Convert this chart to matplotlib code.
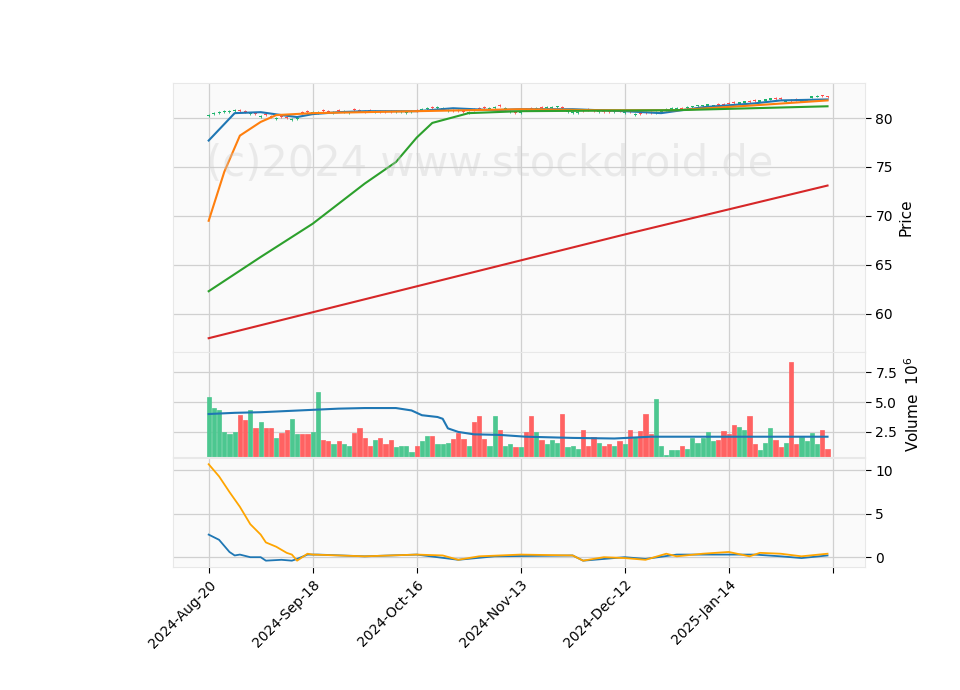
import matplotlib
matplotlib.use("Agg")
import matplotlib.pyplot as plt
import numpy as np

closes = [80.3,80.5,80.6,80.7,80.7,80.8,
          80.7,80.6,80.5,80.4,80.2,80.3,80.1,
          80.0,80.1,80.0,79.9,80.0,80.5,80.6,
          80.6,80.6,80.7,80.6,80.6,80.7,80.7,80.6,80.8,80.7,80.6,
          80.7,80.7,80.6,80.6,80.6,80.7,80.7,80.6,80.7,80.7,80.9,81.0,
          81.0,81.1,81.0,80.8,80.7,80.7,80.6,80.6,80.8,80.9,81.0,81.0,81.1,
          81.2,81.0,80.7,80.5,80.6,80.8,80.9,81.0,81.0,81.1,81.1,81.2,81.0,80.7,80.6,
          80.6,80.7,80.8,80.7,80.7,80.6,80.6,80.7,80.7,80.6,80.6,80.4,80.4,80.5,80.5,80.6,80.7,
          80.9,81.0,81.0,80.9,81.1,81.2,81.3,81.3,81.4,81.3,81.3,81.3,81.4,81.5,81.6,81.7,81.6,
          81.7,81.8,81.9,82.0,81.9,81.9,81.8,81.7,81.8,81.8,81.9,82.2,82.3,82.2,82.1]
direction = "".join(["ggggggrrgr", "grrgrrggrr", "ggrrgrggrr", "rrgrrrgggg",
                     "rggrgggrrrg", "rrrggrggrg", "rrgrgggrgg", "grrrgrrgrg",
                     "rgrrrggggg", "rggggggrrr", "rggrrgggrr", "grrggggrr"])
volumes = [5.4,4.5,4.35,2.5,2.3,2.5,3.9,3.5,4.35,2.8,3.35,2.85,2.8,2.0,2.4,2.7,3.6,2.3,2.35,2.3,
           2.5,5.85,1.85,1.7,1.45,1.7,1.45,1.35,2.4,2.8,2.0,1.3,1.85,2.0,1.5,1.85,1.2,1.35,1.35,0.85,
           1.3,1.7,2.2,2.2,1.5,1.45,1.6,1.95,2.4,1.95,1.3,3.3,3.8,1.95,1.35,3.85,2.7,1.3,1.45,1.2,
           1.2,2.5,3.85,2.5,1.8,1.45,1.85,1.6,4.0,1.2,1.35,1.1,2.7,1.3,2.1,1.6,1.3,1.45,1.35,1.7,
           1.45,2.7,2.1,2.6,4.0,2.3,5.25,1.3,0.6,0.95,0.95,1.35,1.1,2.0,1.6,2.0,2.5,1.7,1.85,2.6,
           2.35,3.1,2.95,2.7,3.8,1.45,0.95,1.6,2.8,1.8,1.2,1.6,8.35,1.5,2.1,1.7,2.4,1.45,2.7,1.1]
vol_ma_x = [0,5,10,15,20,25,30,36,39,41,44,45,46,48,51,56,61,70,78,85,95,119]
vol_ma_y = [4.0,4.1,4.15,4.25,4.35,4.45,4.5,4.5,4.3,3.9,3.75,3.6,2.8,2.5,2.3,2.25,2.1,2.0,1.95,2.1,2.1,2.1]

ma1_x = [0,5,10,14,17,20,25,30,40,47,55,60,70,80,87,95,105,110,119]
ma1_y = [77.7,80.5,80.6,80.3,80.1,80.4,80.6,80.7,80.7,81.0,80.8,80.9,80.9,80.7,80.5,81.1,81.5,81.8,81.9]
ma2_x = [0,3,6,10,13,20,40,60,75,90,105,119]
ma2_y = [69.5,74.5,78.2,79.6,80.3,80.5,80.7,80.9,80.8,80.8,81.3,81.8]
ma3_x = [0,10,20,30,36,40,43,50,60,90,119]
ma3_y = [62.3,65.8,69.2,73.3,75.5,78.0,79.5,80.5,80.7,80.8,81.2]
ma4_x = [0,40,80,119]
ma4_y = [57.5,62.8,68.1,73.1]

sig_x = [0,2,4,6,8,10,11,13,15,16,17,18,19,20,30,40,45,48,52,60,70,72,76,80,84,88,90,95,100,104,106,110,114,119]
sig_y = [10.7,9.3,7.5,5.8,3.8,2.6,1.7,1.2,0.5,0.3,-0.4,0.0,0.4,0.3,0.1,0.3,0.2,-0.3,0.1,0.3,0.2,-0.4,0.0,-0.1,-0.3,0.4,0.1,0.4,0.6,0.1,0.5,0.4,0.1,0.4]
macd_x = [0,2,4,5,6,8,10,11,14,16,17,19,21,30,40,48,55,70,72,80,84,90,105,110,114,119]
macd_y = [2.6,2.0,0.6,0.2,0.3,0.0,0.0,-0.4,-0.3,-0.4,-0.2,0.3,0.3,0.1,0.3,-0.3,0.1,0.2,-0.4,0.0,-0.2,0.3,0.3,0.1,-0.1,0.2]

tick_pos = [0,20,40,60,80,100,120]
tick_labels = ["2024-Aug-20","2024-Sep-18","2024-Oct-16","2024-Nov-13","2024-Dec-12","2025-Jan-14",""]

n = min(len(closes), len(direction), len(volumes))

fig = plt.figure(figsize=(9.6,6.9), dpi=100)
L, W = 0.18, 0.721
ax1 = fig.add_axes([L,0.49,W,0.39])
ax2 = fig.add_axes([L,0.338,W,0.152], sharex=ax1)
ax3 = fig.add_axes([L,0.178,W,0.158], sharex=ax1)
for ax in (ax1,ax2,ax3):
    ax.set_facecolor('#fafafa')
    ax.grid(True, color='#d0d0d0', lw=0.9)
    ax.set_axisbelow(True)
    for s in ax.spines.values():
        s.set_color('#e8e8e8')
    ax.yaxis.tick_right()
    ax.yaxis.set_label_position('right')
    ax.tick_params(axis='both', labelsize=10, length=4)

up_c, dn_c = '#1db46c', '#ff4d4d'
vup, vdn = '#4cc790', '#ff6262'
x = np.arange(n)
for i in range(n):
    up = direction[i] == 'g'
    o = closes[i] - 0.12 if up else closes[i] + 0.12
    c = up_c if up else dn_c
    lo, hi = min(o, closes[i]), max(o, closes[i])
    ax1.vlines(i, lo-0.08, hi+0.08, color=c, lw=0.6)
    ax1.bar(i, hi-lo, bottom=lo, width=0.6, color=c)
ax1.plot(ma1_x, ma1_y, color='#1f77b4', lw=1.5)
ax1.plot(ma2_x, ma2_y, color='#ff7f0e', lw=1.5)
ax1.plot(ma3_x, ma3_y, color='#2ca02c', lw=1.5)
ax1.plot(ma4_x, ma4_y, color='#d62728', lw=1.5)
ax1.set_ylim(56.1, 83.6)
ax1.set_yticks([60,65,70,75,80])
ax1.set_ylabel('Price', fontsize=11)
ax1.text(0.458, 0.7, '(c)2024 www.stockdroid.de', transform=ax1.transAxes, ha='center',
         va='center', fontsize=30, color='#cccccc', alpha=0.35)
ax1.tick_params(labelbottom=False)

vcol = [vup if d == 'g' else vdn for d in direction[:n]]
ax2.bar(x, volumes[:n], width=0.8, color=vcol, edgecolor=vcol, lw=0.5)
ax2.plot(vol_ma_x, vol_ma_y, color='#1f77b4', lw=1.5)
ax2.set_ylim(0.42, 9.2)
ax2.set_yticks([2.5,5.0,7.5])
ax2.set_ylabel('Volume  $10^6$', fontsize=11)
ax2.tick_params(labelbottom=False)

ax3.plot(macd_x, macd_y, color='#1f77b4', lw=1.3)
ax3.plot(sig_x, sig_y, color='orange', lw=1.3)
ax3.set_ylim(-1.15, 11.4)
ax3.set_yticks([0,5,10])
ax3.set_xlim(-6.9, 126.2)
ax3.set_xticks(tick_pos)
ax3.set_xticklabels(tick_labels, rotation=45, ha='right', rotation_mode='anchor')
fig.savefig('out.png', dpi=100)
